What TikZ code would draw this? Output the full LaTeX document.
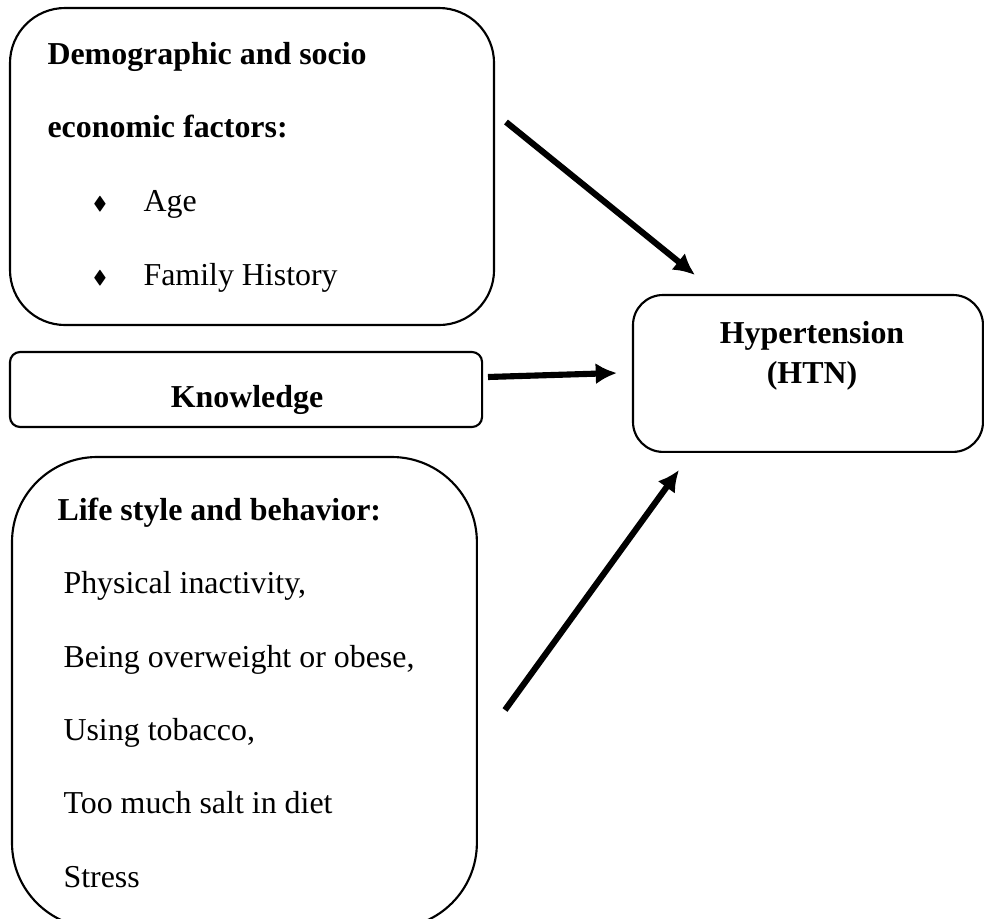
\documentclass[tikz,border=0pt]{standalone}
\usepackage{amssymb}
\usepackage{fontspec}
\setmainfont{Liberation Serif}
\usepackage{tikz}
\usetikzlibrary{positioning, arrows.meta}

\tikzset{
  box/.style={draw, line width=0.8pt, inner sep=0pt, outer sep=0pt, anchor=north west},
  txt/.style={anchor=base west, inner sep=0pt, font=\fontsize{12pt}{14pt}\selectfont},
  head/.style={txt, font=\fontsize{12pt}{14pt}\selectfont\bfseries},
  bul/.style={anchor=center, inner sep=0pt, font=\scriptsize},
  link/.style={line width=2.3pt, -{Latex[length=8pt, width=8pt]}}
}

\begin{document}
\begin{tikzpicture}[x=0.376pt, y=-0.376pt]
  \useasboundingbox (0,0) rectangle (984,919);

  % the three factor boxes
  \node[box, rounded corners=20.7pt, minimum width=182pt, minimum height=119.2pt] (demo) at (10,8) {};
  \node[box, rounded corners=3.8pt, minimum width=177.5pt, minimum height=28.2pt] (know) at (10,352) {};
  \node[box, rounded corners=32pt, minimum width=174.8pt, minimum height=177.1pt] (life) at (12,457) {};

  % outcome box
  \node[box, rounded corners=11.3pt, minimum width=131.6pt, minimum height=59pt] (htn) at (633,295) {};

  % demographic texts
  \node[head] (demo1) at (47,65) {Demographic and socio};
  \node[head] (demo2) at (47,137) {economic factors:};
  \node[bul] (bulA) at (100,204) {$\blacklozenge$};
  \node[txt] (age) at (143,211) {Age};
  \node[bul] (bulB) at (100,278) {$\blacklozenge$};
  \node[txt] (fam) at (143,285) {Family History};

  \node[head, anchor=base] (knowtxt) at (247,407) {Knowledge};

  % life style texts
  \node[head] (life0) at (57,520) {Life style and behavior:};
  \node[txt] (life1) at (63,593) {Physical inactivity,};
  \node[txt] (life2) at (63,667) {Being overweight or obese,};
  \node[txt] (life3) at (63,740) {Using tobacco,};
  \node[txt] (life4) at (63,813) {Too much salt in diet};
  \node[txt] (life5) at (63,887) {Stress};

  \node[head, anchor=base] (htn1) at (812,343) {Hypertension};
  \node[head, anchor=base] (htn2) at (812,383) {(HTN)};

  % arrows
  \coordinate (a1s) at (506,122);
  \coordinate (a1e) at (695,275);
  \coordinate (a2s) at (488,377);
  \coordinate (a2e) at (617,373);
  \coordinate (a3s) at (505,710);
  \coordinate (a3e) at (679,470);
  \draw[link] (a1s) -- (a1e);
  \draw[link] (a2s) -- (a2e);
  \draw[link] (a3s) -- (a3e);
\end{tikzpicture}
\end{document}
